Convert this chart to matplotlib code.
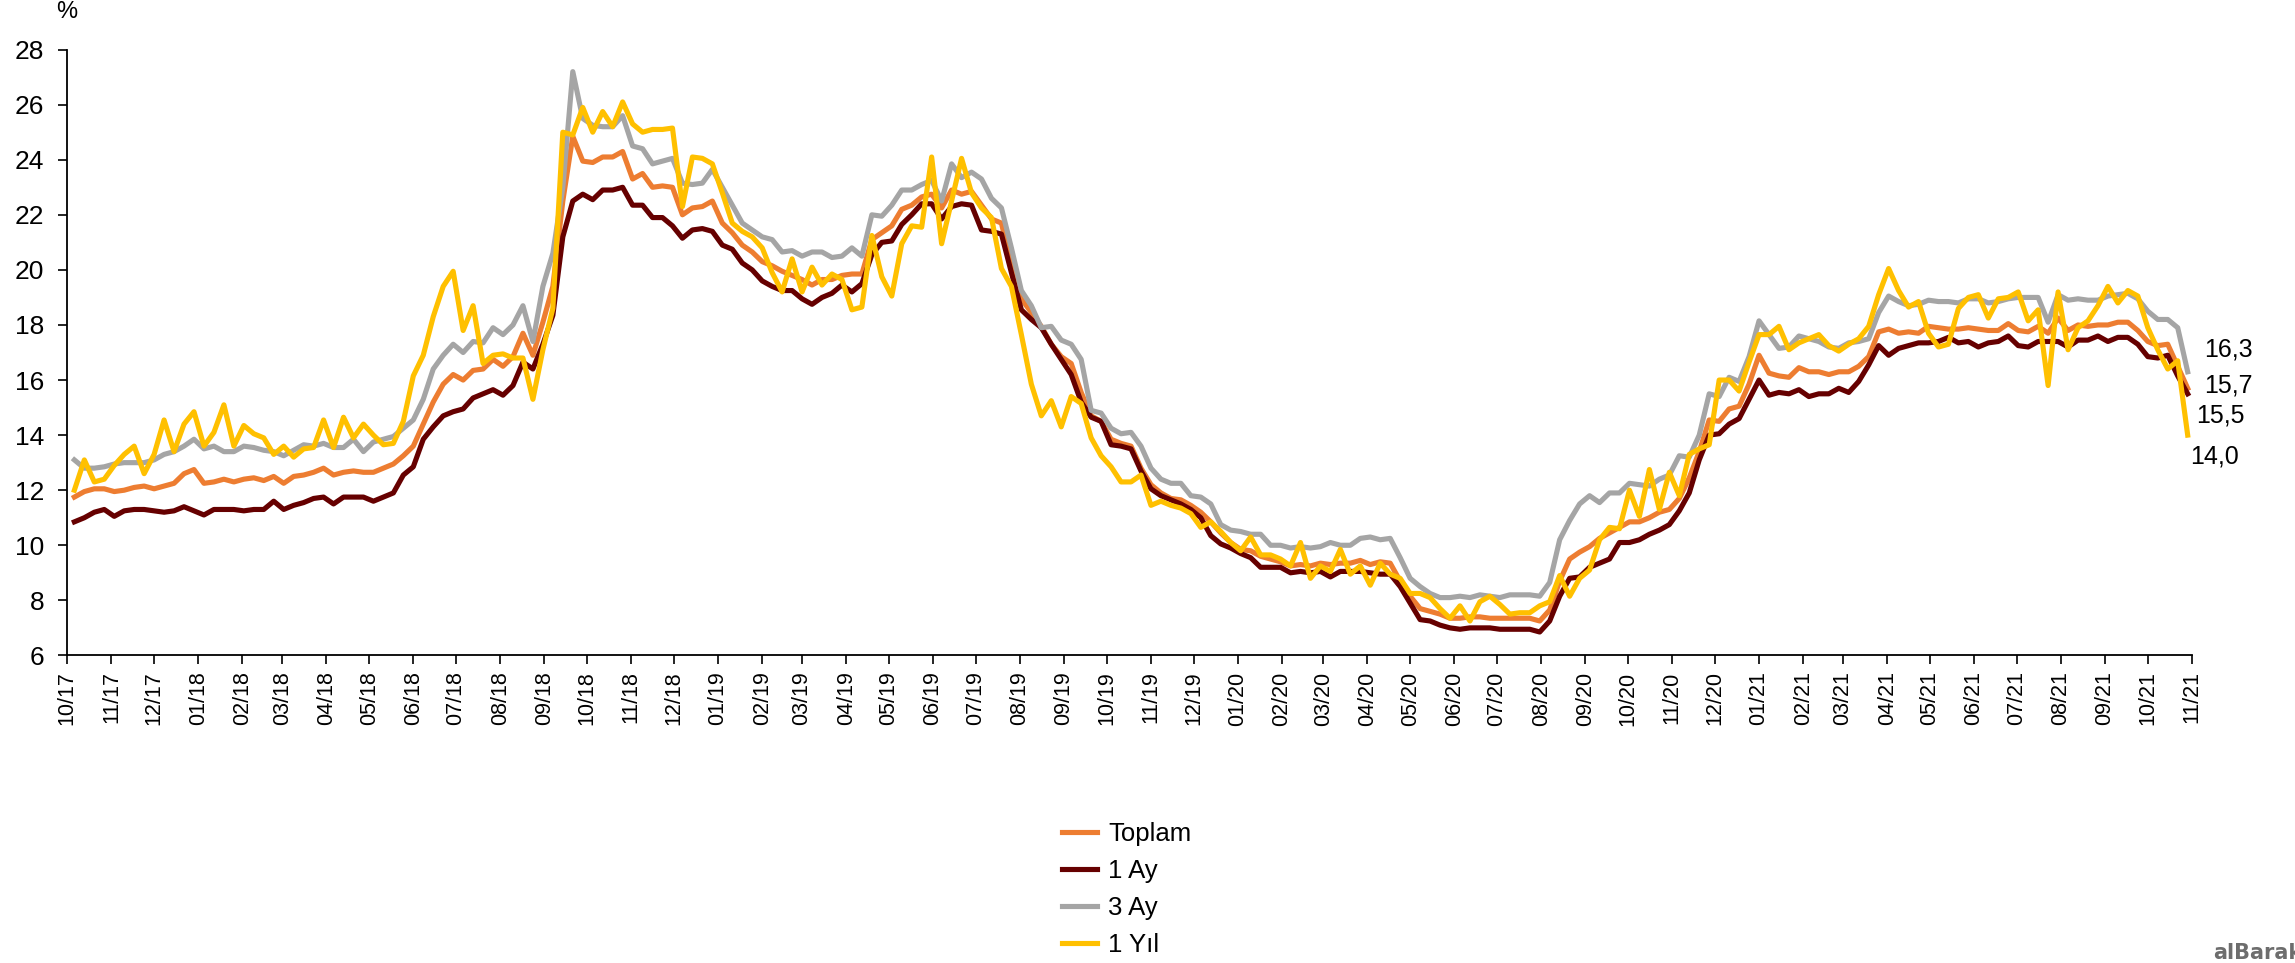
import matplotlib
matplotlib.use("Agg")
import matplotlib.pyplot as plt
import matplotlib.dates as mdates
import pandas as pd

plt.rcParams["font.family"] = ["Liberation Sans", "DejaVu Sans"]

# weekly observations, Oct 2017 - Oct 2021
dates = pd.date_range("2017-10-06", periods=213, freq="7D")

toplam = [
    11.75, 11.95, 12.05, 12.05, 11.95, 12.0, 12.1, 12.15, 12.05, 12.15,
    12.25, 12.6, 12.75, 12.25, 12.3, 12.4, 12.3, 12.4, 12.45, 12.35,
    12.5, 12.25, 12.5, 12.55, 12.65, 12.8, 12.55, 12.65, 12.7, 12.65,
    12.65, 12.8, 12.95, 13.25, 13.6,
    14.4, 15.2, 15.85, 16.2, 16.0, 16.35, 16.4, 16.75, 16.5, 16.85,
    17.7, 16.9, 18.1, 19.4, 22.5, 24.85, 23.95, 23.9, 24.1, 24.1,
    24.3, 23.3, 23.5, 23.0, 23.05, 23.0, 22.0, 22.25, 22.3, 22.5,
    21.7, 21.35, 20.9, 20.65, 20.3, 20.15, 19.95, 19.8,
    19.65, 19.45, 19.65, 19.65, 19.8, 19.85, 19.85, 21.1, 21.35, 21.6,
    22.2, 22.35, 22.65, 22.75, 22.25, 22.9, 22.75, 22.85, 22.35, 21.85,
    21.7, 20.15, 18.95, 18.45, 17.95, 17.3, 16.85, 16.6, 15.55, 14.7,
    14.5, 13.85, 13.7, 13.6, 12.8, 12.2, 11.9, 11.7,
    11.65, 11.45, 11.2, 10.85, 10.45, 10.1, 9.85, 9.8, 9.6, 9.5,
    9.4, 9.25, 9.3, 9.25, 9.35, 9.3, 9.35, 9.35, 9.45, 9.3,
    9.4, 9.35, 8.7, 8.15, 7.7, 7.6, 7.5, 7.35, 7.35, 7.4,
    7.4, 7.35, 7.35, 7.35, 7.35, 7.35, 7.25, 7.65, 8.7,
    9.5, 9.75, 9.95, 10.25, 10.45, 10.65, 10.85, 10.85, 11.0, 11.2,
    11.3, 11.7, 12.45, 13.4, 14.55, 14.5, 14.95, 15.05, 15.85, 16.9,
    16.25, 16.15, 16.1, 16.45, 16.3, 16.3, 16.2, 16.3, 16.3, 16.5,
    16.85, 17.75, 17.85, 17.7, 17.75, 17.7, 17.95, 17.9,
    17.85, 17.85, 17.9, 17.85, 17.8, 17.8, 18.05, 17.8, 17.75, 17.95,
    17.7, 18.25, 17.8, 18.0, 17.95, 18.0, 18.0, 18.1, 18.1, 17.8,
    17.4, 17.25, 17.3, 16.5, 15.7,
]

ay1 = [
    10.85, 11.0, 11.2, 11.3, 11.05, 11.25, 11.3, 11.3, 11.25, 11.2,
    11.25, 11.4, 11.25, 11.1, 11.3, 11.3, 11.3, 11.25, 11.3, 11.3,
    11.6, 11.3, 11.45, 11.55, 11.7, 11.75, 11.5, 11.75, 11.75, 11.75,
    11.6, 11.75, 11.9, 12.55, 12.85,
    13.85, 14.3, 14.7, 14.85, 14.95, 15.35, 15.5, 15.65, 15.45, 15.8,
    16.65, 16.4, 17.3, 18.35, 21.2, 22.5, 22.75, 22.55, 22.9, 22.9,
    23.0, 22.35, 22.35, 21.9, 21.9, 21.6, 21.15, 21.45, 21.5, 21.4,
    20.9, 20.75, 20.25, 20.0, 19.6, 19.4, 19.25, 19.25,
    18.95, 18.75, 19.0, 19.15, 19.45, 19.2, 19.5, 20.55, 21.0, 21.05,
    21.65, 22.0, 22.4, 22.4, 21.85, 22.3, 22.4, 22.35, 21.45, 21.4,
    21.3, 19.9, 18.55, 18.2, 17.9, 17.3, 16.75, 16.2, 15.2, 14.65,
    14.5, 13.65, 13.6, 13.5, 12.7, 12.05, 11.8, 11.65,
    11.5, 11.3, 11.0, 10.35, 10.05, 9.9, 9.7, 9.55, 9.2, 9.2,
    9.2, 9.0, 9.05, 9.0, 9.05, 8.85, 9.05, 9.05, 9.05, 9.0,
    8.95, 8.95, 8.5, 7.9, 7.3, 7.25, 7.1, 7.0, 6.95, 7.0,
    7.0, 7.0, 6.95, 6.95, 6.95, 6.95, 6.85, 7.25, 8.15,
    8.8, 8.85, 9.2, 9.35, 9.5, 10.1, 10.1, 10.2, 10.4, 10.55,
    10.75, 11.25, 11.9, 13.1, 14.0, 14.05, 14.4, 14.6, 15.3, 16.0,
    15.45, 15.55, 15.5, 15.65, 15.4, 15.5, 15.5, 15.7, 15.55, 15.95,
    16.55, 17.25, 16.9, 17.15, 17.25, 17.35, 17.35, 17.4,
    17.55, 17.35, 17.4, 17.2, 17.35, 17.4, 17.6, 17.25, 17.2, 17.4,
    17.4, 17.4, 17.2, 17.45, 17.45, 17.6, 17.4, 17.55, 17.55, 17.3,
    16.85, 16.8, 16.9, 16.15, 15.5,
]

ay3 = [
    13.1, 12.8, 12.8, 12.85, 12.95, 13.0, 13.0, 13.0, 13.1, 13.3,
    13.4, 13.6, 13.85, 13.5, 13.6, 13.4, 13.4, 13.6, 13.55, 13.45,
    13.4, 13.25, 13.45, 13.65, 13.6, 13.7, 13.55, 13.55, 13.85, 13.4,
    13.75, 13.85, 13.95, 14.25, 14.55,
    15.3, 16.4, 16.9, 17.3, 17.0, 17.4, 17.35, 17.9, 17.65, 18.0,
    18.7, 17.4, 19.4, 20.6, 23.0, 27.2, 25.5, 25.25, 25.2, 25.2,
    25.6, 24.5, 24.4, 23.85, 23.95, 24.05, 23.15, 23.1, 23.15, 23.65,
    23.0, 22.35, 21.7, 21.45, 21.2, 21.1, 20.65, 20.7,
    20.5, 20.65, 20.65, 20.45, 20.5, 20.8, 20.5, 22.0, 21.95, 22.35,
    22.9, 22.9, 23.1, 23.25, 22.5, 23.85, 23.35, 23.55, 23.3, 22.6,
    22.25, 20.8, 19.25, 18.7, 17.9, 17.95, 17.45, 17.3, 16.75, 14.9,
    14.8, 14.25, 14.05, 14.1, 13.6, 12.8, 12.4, 12.25,
    12.25, 11.8, 11.75, 11.5, 10.75, 10.55, 10.5, 10.4, 10.4, 10.0,
    10.0, 9.9, 9.95, 9.9, 9.95, 10.1, 10.0, 10.0, 10.25, 10.3,
    10.2, 10.25, 9.55, 8.8, 8.5, 8.25, 8.1, 8.1, 8.15, 8.1,
    8.2, 8.15, 8.1, 8.2, 8.2, 8.2, 8.15, 8.65, 10.2,
    10.9, 11.5, 11.8, 11.55, 11.9, 11.9, 12.25, 12.2, 12.15, 12.4,
    12.55, 13.25, 13.2, 14.0, 15.5, 15.4, 16.1, 15.95, 16.85, 18.15,
    17.65, 17.15, 17.2, 17.6, 17.5, 17.4, 17.2, 17.15, 17.35, 17.4,
    17.5, 18.45, 19.05, 18.85, 18.7, 18.75, 18.9, 18.85,
    18.85, 18.8, 18.95, 18.95, 18.8, 18.85, 18.95, 19.0, 19.0, 19.0,
    18.1, 19.1, 18.9, 18.95, 18.9, 18.9, 19.05, 19.1, 19.15, 18.95,
    18.5, 18.2, 18.2, 17.9, 16.3,
]

yil1 = [
    12.0, 13.1, 12.3, 12.4, 12.9, 13.3, 13.6, 12.6, 13.3, 14.55,
    13.4, 14.4, 14.85, 13.6, 14.1, 15.1, 13.6, 14.35, 14.05, 13.9,
    13.3, 13.6, 13.2, 13.5, 13.55, 14.55, 13.55, 14.65, 13.9, 14.4,
    14.0, 13.65, 13.7, 14.5, 16.15,
    16.9, 18.3, 19.4, 19.95, 17.8, 18.7, 16.6, 16.9, 16.95, 16.8,
    16.8, 15.3, 17.1, 18.6, 25.0, 24.9, 25.9, 25.0, 25.75, 25.2,
    26.1, 25.3, 25.0, 25.1, 25.1, 25.15, 22.3, 24.1, 24.05, 23.85,
    22.8, 21.7, 21.4, 21.2, 20.8, 19.9, 19.2, 20.4,
    19.2, 20.1, 19.45, 19.85, 19.65, 18.55, 18.65, 21.25, 19.75, 19.05,
    20.95, 21.6, 21.55, 24.1, 20.95, 22.5, 24.05, 22.8, 22.25, 21.9,
    20.05, 19.4, 17.65, 15.85, 14.7, 15.25, 14.3, 15.4, 15.15, 13.9,
    13.25, 12.85, 12.3, 12.3, 12.55, 11.45, 11.6, 11.45,
    11.35, 11.15, 10.65, 10.85, 10.5, 10.1, 9.8, 10.3, 9.65, 9.65,
    9.5, 9.25, 10.1, 8.8, 9.25, 9.05, 9.85, 8.95, 9.25, 8.55,
    9.35, 8.95, 8.8, 8.25, 8.25, 8.1, 7.7, 7.35, 7.8, 7.25,
    7.95, 8.15, 7.85, 7.5, 7.55, 7.55, 7.8, 7.95, 8.9,
    8.15, 8.8, 9.1, 10.2, 10.65, 10.6, 12.0, 11.05, 12.75, 11.3,
    12.65, 11.8, 13.3, 13.5, 13.65, 16.0, 16.0, 15.6, 16.65, 17.65,
    17.65, 17.95, 17.1, 17.35, 17.5, 17.65, 17.25, 17.05, 17.3, 17.5,
    17.95, 19.1, 20.05, 19.25, 18.65, 18.85, 17.7, 17.2,
    17.3, 18.6, 19.0, 19.1, 18.25, 18.95, 19.0, 19.2, 18.15, 18.55,
    15.8, 19.2, 17.1, 17.9, 18.15, 18.7, 19.4, 18.8, 19.25, 19.05,
    17.9, 17.1, 16.4, 16.7, 14.0,
]

labels = ["Toplam", "1 Ay", "3 Ay", "1 Yıl"]
colors = ["#ED7D31", "#660000", "#A5A5A5", "#FFC000"]
series = [toplam, ay1, ay3, yil1]

fig = plt.figure(figsize=(22.95, 9.63), dpi=100)
ax = fig.add_axes([0.0293, 0.3194, 0.9258, 0.6291])

for vals, lab, col in zip(series, labels, colors):
    ax.plot(dates, vals, color=col, lw=3.7, label=lab)

ax.set_ylim(6, 28)
ax.set_yticks(range(6, 29, 2))
ax.set_xlim(pd.Timestamp("2017-10-01"), pd.Timestamp("2021-11-01"))
ax.xaxis.set_major_locator(mdates.MonthLocator())
ax.xaxis.set_major_formatter(mdates.DateFormatter("%m/%y"))

for s in ["top", "right"]:
    ax.spines[s].set_visible(False)
for s in ["left", "bottom"]:
    ax.spines[s].set_linewidth(1.3)
    ax.spines[s].set_color("black")

ax.tick_params(axis="both", direction="out", length=6.5, width=1.2, color="black")
ax.tick_params(axis="y", labelsize=19, pad=10)
ax.tick_params(axis="x", labelsize=15.5, pad=5, labelrotation=90)

# end-of-series value labels
offsets = [(16, 3), (8, -22), (16, 22), (2, -21)]
for vals, (dx, dy) in zip(series, offsets):
    ax.annotate(f"{vals[-1]:.1f}".replace(".", ","), xy=(dates[-1], vals[-1]),
                xytext=(dx, dy), textcoords="offset pixels",
                ha="left", va="center", fontsize=18, annotation_clip=False)

fig.text(67 / 2295, 1 - 12.5 / 963, "%", ha="center", va="center", fontsize=17)

fig.legend(loc="center", bbox_to_anchor=(0.491, 0.0763), frameon=False,
           fontsize=18.5, handlelength=1.35, handletextpad=0.45, labelspacing=0.5)

fig.text(2213 / 2295, 1 - 959 / 963, "alBaraka", ha="left", va="baseline",
         fontsize=15, fontweight="bold", color="#6d6d6d",
         family=["DejaVu Sans"])

fig.savefig("out.png", dpi=100)
